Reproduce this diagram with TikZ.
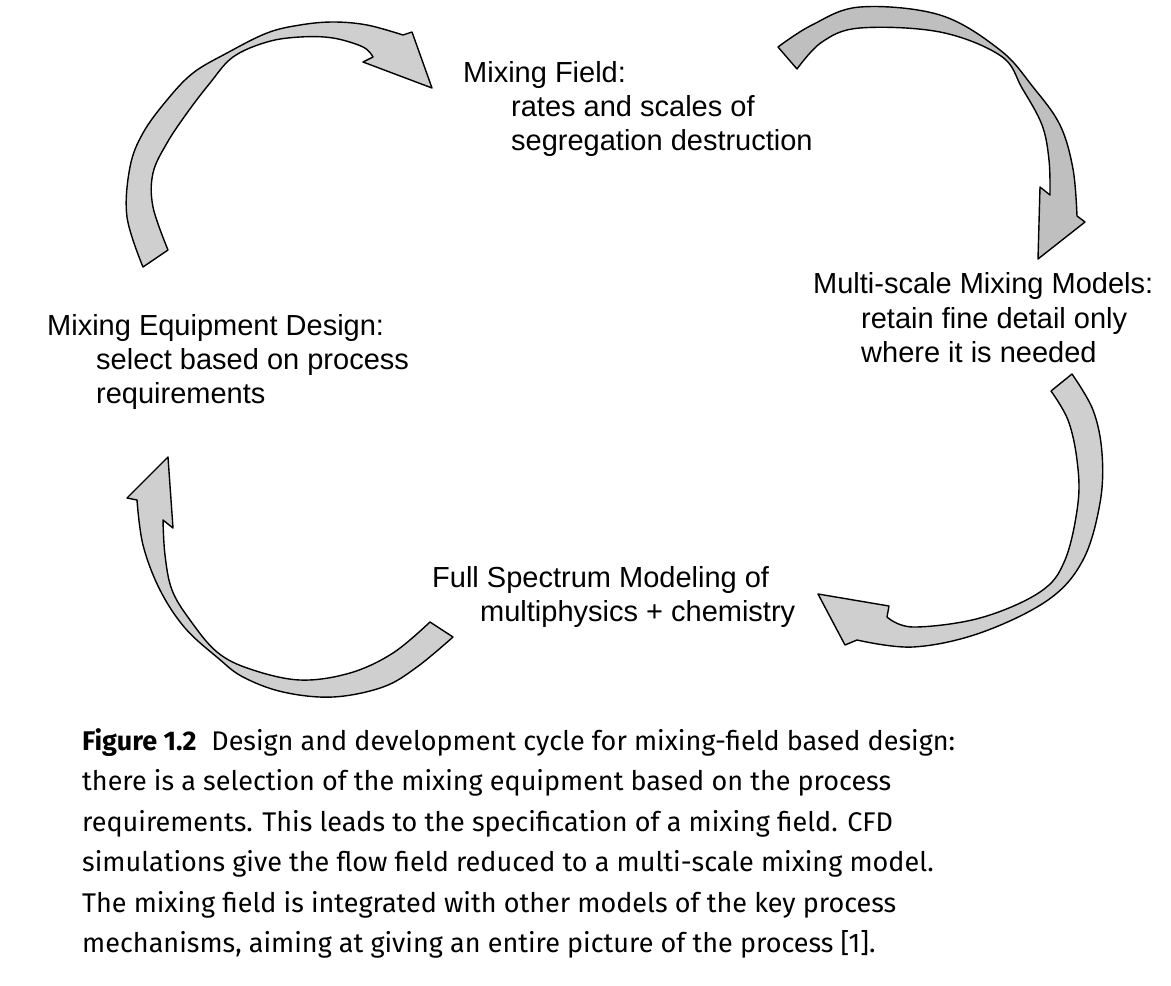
\documentclass[tikz,border=0pt]{standalone}
\usepackage{fontspec}
\setmainfont{Liberation Sans}
\newfontfamily\capfont{Fira Sans}
\begin{document}
\begin{tikzpicture}[x=1pt,y=-1pt]
\tikzset{
  ribbon/.style={draw=black, line width=1.4pt, fill=gray!38, line join=round},
  darkribbon/.style={ribbon, fill=gray!50},
  lbl/.style={anchor=base west, inner sep=0pt, font=\fontsize{29}{34}\selectfont},
  captext/.style={anchor=base west, inner sep=0pt, font=\capfont\fontsize{27}{40}\selectfont}
}
\useasboundingbox (0,0) rectangle (1171,986);
\fill[white] (0,0) rectangle (1171,986);

% Arrow A: equipment -> mixing field
\draw[ribbon] plot[smooth, tension=0.6] coordinates {(143,267) (127,217) (130,167) (143,133) (167,100) (193,73) (227,53) (267,33) (300,25) (333,22) (367,25) (403,35)}
  -- (412,32) -- (432,88) -- (363,62) -- (373,57)
  -- plot[smooth, tension=0.6] coordinates {(373,57) (363,47) (333,38) (300,37) (267,42) (233,57) (210,83) (187,113) (167,143) (153,173) (153,207) (168,250)} -- cycle;

% Arrow B: mixing field -> multi-scale
\draw[darkribbon] plot[smooth, tension=0.6] coordinates {(778,47) (812,25) (860,7) (940,15) (1000,50) (1033,87) (1060,125) (1073,169) (1077,216)}
  -- (1085,222) -- (1038,259) -- (1040,187) -- (1050,195)
  -- plot[smooth, tension=0.6] coordinates {(1050,195) (1049,160) (1042,125) (1022,88) (1001,56) (940,32) (860,28) (822,42) (797,69)} -- cycle;

% Arrow C: multi-scale -> full spectrum
\draw[ribbon] plot[smooth, tension=0.6] coordinates {(1072,374) (1093,410) (1102,453) (1100,503) (1083,560) (1048,600) (980,633) (913,647) (857,640)}
  -- (845,645) -- (818,594) -- (889,606) -- (887,617)
  -- plot[smooth, tension=0.6] coordinates {(887,617) (913,627) (980,618) (1040,592) (1065,560) (1078,503) (1077,460) (1068,420) (1051,391)} -- cycle;

% Arrow D: full spectrum -> equipment
\draw[ribbon] plot[smooth, tension=0.6] coordinates {(453,637) (417,667) (383,687) (333,697) (283,692) (243,677) (218,658) (185,628) (160,590) (143,545) (137,500)}
  -- (127,498) -- (168,457) -- (173,528) -- (163,520)
  -- plot[smooth, tension=0.6] coordinates {(163,520) (165,555) (172,590) (190,620) (217,652) (250,669) (300,680) (350,673) (393,653) (430,622)} -- cycle;

% Labels
\node[lbl] (mf1) at (463,82) {Mixing Field:};
\node[lbl] (mf2) at (511,116) {rates and scales of};
\node[lbl] (mf3) at (511,150) {segregation destruction};

\node[lbl] (mm1) at (813,293) {Multi-scale Mixing Models:};
\node[lbl] (mm2) at (861,328) {retain fine detail only};
\node[lbl] (mm3) at (861,362) {where it is needed};

\node[lbl] (me1) at (47,335) {Mixing Equipment Design:};
\node[lbl] (me2) at (96,369) {select based on process};
\node[lbl] (me3) at (96,403) {requirements};

\node[lbl] (fs1) at (432,587) {Full Spectrum Modeling of};
\node[lbl] (fs2) at (480,621) {multiphysics + chemistry};

% Caption
\node[captext] (c1) at (82,750) {\textbf{Figure 1.2}\hspace{0.55em}Design and development cycle for mixing-field based design:};
\node[captext] (c2) at (82,790.5) {there is a selection of the mixing equipment based on the process};
\node[captext] (c3) at (82,831) {requirements. This leads to the specification of a mixing field. CFD};
\node[captext] (c4) at (82,871.5) {simulations give the flow field reduced to a multi-scale mixing model.};
\node[captext] (c5) at (82,912) {The mixing field is integrated with other models of the key process};
\node[captext] (c6) at (82,952.5) {mechanisms, aiming at giving an entire picture of the process [1].};
\end{tikzpicture}
\end{document}
